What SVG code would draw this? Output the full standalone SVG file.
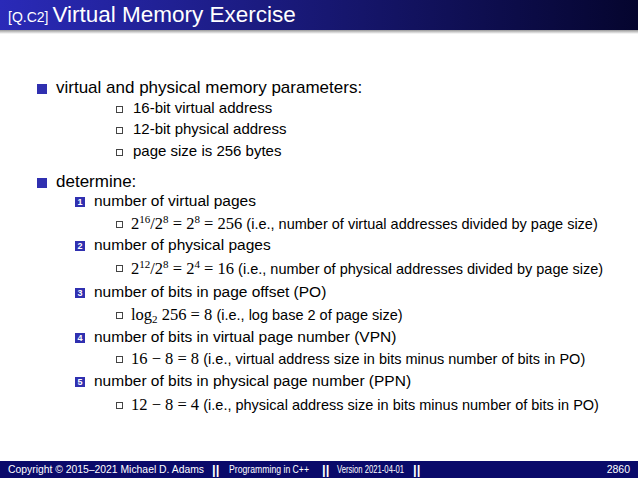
<svg xmlns="http://www.w3.org/2000/svg" width="638" height="478" viewBox="0 0 638 478">
<defs>
<linearGradient id="hg" x1="0" x2="1" y1="0" y2="0"><stop offset="0" stop-color="#2a2ab8"/><stop offset="1" stop-color="#05052e"/></linearGradient>
<linearGradient id="sh" x1="0" x2="0" y1="0" y2="1"><stop offset="0" stop-color="#999"/><stop offset="1" stop-color="#fff"/></linearGradient>
</defs>
<style>
text{font-family:"Liberation Sans",Arial,sans-serif;fill:#000}
.l1{font-size:17px}.l2{font-size:15.5px}.l3{font-size:15px}
.m{font-family:"Liberation Serif","Times New Roman",serif;font-size:16.5px}
.t{font-family:"Liberation Sans",Arial,sans-serif;font-size:14.5px}
.b{fill:#3030b0}.n{fill:#3030b0}.nt{fill:#fff;font-size:9px;font-weight:bold;text-anchor:middle}
.s{fill:#fff;stroke:#444;stroke-width:1}
.f{fill:#fff;font-size:10.5px}
.sep{fill:#fff;font-size:13px;font-weight:bold}
</style>
<rect width="638" height="478" fill="#fff"/>
<rect width="638" height="30" fill="url(#hg)"/>
<rect y="30" width="638" height="4" fill="url(#sh)"/>
<text x="8" y="22" style="fill:#fff"><tspan font-size="14">[Q.C2]</tspan><tspan font-size="22.5" dx="4">Virtual Memory Exercise</tspan></text>
<g id="p1">
<rect class="b" x="37" y="84" width="10" height="10"/>
<text class="l1" x="56" y="93">virtual and physical memory parameters:</text>
<rect class="s" x="116.5" y="106.5" width="6" height="6"/><text class="l3" x="133" y="113">16-bit virtual address</text>
<rect class="s" x="116.5" y="127.5" width="6" height="6"/><text class="l3" x="133" y="134">12-bit physical address</text>
<rect class="s" x="116.5" y="149.5" width="6" height="6"/><text class="l3" x="133" y="156">page size is 256 bytes</text>
</g>
<g id="p2">
<rect class="b" x="37" y="178" width="10" height="10"/>
<text class="l1" x="56" y="187">determine:</text>
<rect class="n" x="75" y="197" width="10" height="10"/><text class="nt" x="80" y="205">1</text>
<text class="l2" x="94" y="206">number of virtual pages</text>
<rect class="s" x="116.5" y="221.5" width="6" height="6"/>
<text class="m" x="131" y="229">2<tspan dy="-6" font-size="11">16</tspan><tspan dy="6">/2</tspan><tspan dy="-6" font-size="11">8</tspan><tspan dy="6"> = 2</tspan><tspan dy="-6" font-size="11">8</tspan><tspan dy="6"> = 256 </tspan><tspan class="t">(i.e., number of virtual addresses divided by page size)</tspan></text>
<rect class="n" x="75" y="241" width="10" height="10"/><text class="nt" x="80" y="249">2</text>
<text class="l2" x="94" y="250">number of physical pages</text>
<rect class="s" x="116.5" y="265.5" width="6" height="6"/>
<text class="m" x="131" y="274">2<tspan dy="-6" font-size="11">12</tspan><tspan dy="6">/2</tspan><tspan dy="-6" font-size="11">8</tspan><tspan dy="6"> = 2</tspan><tspan dy="-6" font-size="11">4</tspan><tspan dy="6"> = 16 </tspan><tspan class="t">(i.e., number of physical addresses divided by page size)</tspan></text>
<rect class="n" x="75" y="288" width="10" height="10"/><text class="nt" x="80" y="296">3</text>
<text class="l2" x="94" y="297">number of bits in page offset (PO)</text>
<rect class="s" x="116.5" y="312.5" width="6" height="6"/>
<text class="m" x="131" y="320">log<tspan dy="3" font-size="11">2</tspan><tspan dy="-3"> 256 = 8 </tspan><tspan class="t">(i.e., log base 2 of page size)</tspan></text>
<rect class="n" x="75" y="333" width="10" height="10"/><text class="nt" x="80" y="341">4</text>
<text class="l2" x="94" y="342">number of bits in virtual page number (VPN)</text>
<rect class="s" x="116.5" y="356.5" width="6" height="6"/>
<text class="m" x="131" y="364">16 − 8 = 8 <tspan class="t">(i.e., virtual address size in bits minus number of bits in PO)</tspan></text>
<rect class="n" x="75" y="377" width="10" height="10"/><text class="nt" x="80" y="385">5</text>
<text class="l2" x="94" y="386">number of bits in physical page number (PPN)</text>
<rect class="s" x="116.5" y="402.5" width="6" height="6"/>
<text class="m" x="131" y="410">12 − 8 = 4 <tspan class="t">(i.e., physical address size in bits minus number of bits in PO)</tspan></text>
</g>
<rect y="461" width="638" height="17" fill="#0a0a6a"/>
<text class="f" x="8" y="473" textLength="196" lengthAdjust="spacingAndGlyphs">Copyright © 2015–2021 Michael D. Adams</text>
<text class="sep" x="212" y="474">||</text>
<text class="f" x="229" y="473" textLength="80" lengthAdjust="spacingAndGlyphs">Programming in C++</text>
<text class="sep" x="322" y="474">||</text>
<text class="f" x="337" y="473" textLength="67" lengthAdjust="spacingAndGlyphs">Version 2021-04-01</text>
<text class="sep" x="413" y="474">||</text>
<text class="f" x="630" y="473" text-anchor="end">2860</text>
</svg>
